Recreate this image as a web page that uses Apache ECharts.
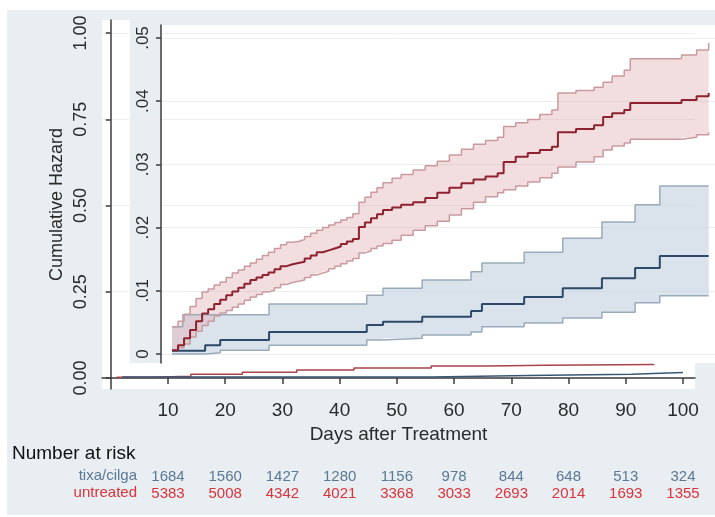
<!DOCTYPE html>
<html><head><meta charset="utf-8">
<script src="https://cdn.jsdelivr.net/npm/echarts@6/dist/echarts.min.js"></script>
<style>html,body{margin:0;padding:0;background:#fff}#c{width:715px;height:517px}</style>
</head><body><div id="c"></div>
<script>
// ---------- data ----------
const xTicks = [10, 20, 30, 40, 50, 60, 70, 80, 90, 100];
const yTicksOuter = [0, 0.25, 0.5, 0.75, 1];
const yTicksInset = [0, 0.01, 0.02, 0.03, 0.04, 0.05];

const riskTixa = [1684, 1560, 1427, 1280, 1156, 978, 844, 648, 513, 324];
const riskUntreated = [5383, 5008, 4342, 4021, 3368, 3033, 2693, 2014, 1693, 1355];

// outer (full-scale) curves
const outerRedDays = [1, 7, 14, 23, 32.5, 42.5, 56, 66, 76, 95];
const outerRedVals = [0.002, 0.005, 0.011, 0.017, 0.023, 0.029, 0.035, 0.037, 0.039, 0.039];
const outerBlueDays = [2, 56, 73, 91, 100];
const outerBlueVals = [0.003, 0.007, 0.011, 0.016, 0.016];

// inset: untreated (red)
const redDays = [11,12,13,14,15,16,17,18,19,20,21,22,23,24,25,26,27,28,29,30,31,32,33,34,35,36,37,38,39,40,41,42,43,44,45,46,47.5,49,51,53,55,57,59,61,63,65,66,68,70,72,74,75,78,81,82.5,84,86,87,95.5,98,100];
const redMid = [.0006,.0014,.0025,.0038,.0052,.0064,.0071,.0079,.0086,.0093,.0099,.0105,.0111,.0117,.0121,.0125,.0129,.0134,.0139,.0142,.0144,.0146,.0151,.0156,.0161,.0164,.0167,.0170,.0174,.0178,.0182,.0201,.0208,.0215,.0221,.0228,.0232,.0236,.0240,.0247,.0255,.0263,.0270,.0276,.0281,.0286,.0304,.0312,.0318,.0323,.0328,.0351,.0356,.0362,.0375,.0381,.0386,.0397,.0402,.0408,.0413];
const redLo = [.0005,.0010,.0016,.0027,.0036,.0045,.0052,.0060,.0065,.0069,.0074,.0079,.0085,.0090,.0094,.0098,.0101,.0105,.0110,.0113,.0115,.0117,.0121,.0125,.0128,.0131,.0135,.0139,.0143,.0147,.0151,.0160,.0163,.0167,.0171,.0175,.0180,.0188,.0196,.0203,.0210,.0220,.0230,.0240,.0249,.0255,.0260,.0266,.0272,.0279,.0286,.0296,.0304,.0312,.0323,.0329,.0334,.0340,.0343,.0347,.0351];
const redHi = [.0043,.0052,.0063,.0075,.0088,.0098,.0103,.0109,.0114,.0121,.0128,.0133,.0139,.0144,.0150,.0156,.0161,.0167,.0173,.0177,.0178,.0181,.0186,.0191,.0196,.0200,.0204,.0208,.0212,.0216,.0222,.0240,.0248,.0256,.0263,.0271,.0278,.0284,.0291,.0298,.0305,.0315,.0324,.0332,.0338,.0343,.0360,.0366,.0371,.0379,.0386,.0413,.0417,.0422,.0430,.0440,.0449,.0467,.0473,.0481,.0492];

// inset: tixa/cilga (blue)
const blueDays = [11, 12.8, 16.5, 19, 27.1, 43.3, 46, 52.5, 60.6, 62.4, 69.4, 75.8, 82.3, 87.8, 91.9, 100];
const blueMid = [.0005, .0005, .0014, .0022, .0035, .0046, .0051, .0059, .0068, .0079, .0090, .0104, .0120, .0136, .0155, .0155];
const blueLo = [.0000, .0000, .0002, .0006, .0014, .0022, .0025, .0030, .0035, .0043, .0049, .0057, .0066, .0081, .0092, .0092];
const blueHi = [.0043, .0062, .0062, .0062, .0079, .0093, .0104, .0117, .0130, .0144, .0161, .0183, .0209, .0236, .0266, .0266];

// ---------- helpers ----------
const zip = (xs, ys) => xs.map((x, i) => [x, ys[i]]);
const FONT = 'Liberation Sans, Arial, Helvetica, sans-serif';
const AX = '#3c3c3c';
const TXT = '#2b2b2b';

function bandSeries(days, lo, hi, fill) {
  return {
    type: 'custom', xAxisIndex: 1, yAxisIndex: 1, silent: true, z: 1,
    data: [[days[0], lo[0]]],
    encode: { x: 0, y: 1 },
    renderItem: function (params, api) {
      const pts = [];
      for (let i = 0; i < days.length; i++) {
        pts.push(api.coord([days[i], hi[i]]));
        if (i + 1 < days.length) pts.push(api.coord([days[i + 1], hi[i]]));
      }
      for (let i = days.length - 1; i >= 0; i--) {
        if (i + 1 < days.length) pts.push(api.coord([days[i + 1], lo[i]]));
        pts.push(api.coord([days[i], lo[i]]));
      }
      return { type: 'polygon', shape: { points: pts }, style: { fill: fill } };
    }
  };
}
function stepLine(data, color, width, xi, yi, z) {
  return {
    type: 'line', step: 'end', data: data, xAxisIndex: xi, yAxisIndex: yi,
    symbol: 'none', silent: true, z: z,
    lineStyle: { color: color, width: width }
  };
}

const chart = echarts.init(document.getElementById('c'), null, { renderer: 'canvas' });

const option = {
  animation: false,
  textStyle: { fontFamily: FONT },
  graphic: [
    { type: 'rect', z: -100, silent: true, shape: { x: 7, y: 10, width: 708, height: 505 }, style: { fill: '#e8eef2' } },
    { type: 'rect', z: -99, silent: true, shape: { x: 102, y: 20, width: 593, height: 369 }, style: { fill: '#ffffff' } },
    { type: 'rect', z: -50, silent: true, shape: { x: 130, y: 10, width: 585, height: 353 }, style: { fill: '#e8eef2' } },
    { type: 'rect', z: -49, silent: true, shape: { x: 161, y: 25, width: 554, height: 338 }, style: { fill: '#ffffff' } },
    { type: 'text', silent: true, left: 12, top: 444, style: { text: 'Number at risk', fill: '#111', font: '19px ' + FONT } },
    { type: 'text', silent: true, right: 715 - 137, top: 468, style: { text: 'tixa/cilga', fill: '#5b7896', font: '15px ' + FONT, textAlign: 'right' } },
    { type: 'text', silent: true, right: 715 - 137, top: 485, style: { text: 'untreated', fill: '#d8343c', font: '15px ' + FONT, textAlign: 'right' } }
  ],
  grid: [
    { left: 102, right: 20, top: 20, bottom: 128, containLabel: false },
    { left: 161, right: 0, top: 25, bottom: 154, containLabel: false }
  ],
  xAxis: [
    {
      type: 'value', gridIndex: 0, min: -1.53, max: 102.1, z: -40,
      name: 'Days after Treatment', nameLocation: 'middle', nameGap: 35,
      nameTextStyle: { fontSize: 19, color: TXT, fontFamily: FONT },
      axisLine: { show: true, lineStyle: { color: AX, width: 1.5 } },
      axisTick: { show: true, length: 6, customValues: xTicks, lineStyle: { color: AX, width: 1.5 } },
      axisLabel: { customValues: xTicks, fontSize: 19, color: TXT, margin: 12, fontFamily: FONT },
      splitLine: { show: false }
    },
    { type: 'value', gridIndex: 1, min: 9.18, max: 101.05, show: false },
    {
      type: 'value', gridIndex: 0, min: -1.53, max: 102.1, position: 'bottom', offset: 88,
      axisLine: { show: false }, axisTick: { show: false, customValues: xTicks }, splitLine: { show: false },
      axisLabel: {
        customValues: xTicks, margin: 0, verticalAlign: 'middle', fontSize: 15, color: '#5b7896', fontFamily: FONT,
        formatter: v => { const i = xTicks.indexOf(Math.round(v)); return i >= 0 ? String(riskTixa[i]) : ''; }
      }
    },
    {
      type: 'value', gridIndex: 0, min: -1.53, max: 102.1, position: 'bottom', offset: 105,
      axisLine: { show: false }, axisTick: { show: false, customValues: xTicks }, splitLine: { show: false },
      axisLabel: {
        customValues: xTicks, margin: 0, verticalAlign: 'middle', fontSize: 15, color: '#d8343c', fontFamily: FONT,
        formatter: v => { const i = xTicks.indexOf(Math.round(v)); return i >= 0 ? String(riskUntreated[i]) : ''; }
      }
    }
  ],
  yAxis: [
    {
      type: 'value', gridIndex: 0, min: -0.0319, max: 1.0377, z: -40,
      name: 'Cumulative Hazard', nameLocation: 'middle', nameGap: 36, nameMoveOverlap: false,
      nameTextStyle: { fontSize: 18, color: TXT, fontFamily: FONT },
      axisLine: { show: true, lineStyle: { color: AX, width: 1.5 } },
      axisTick: { show: true, length: 5, customValues: yTicksOuter, lineStyle: { color: AX, width: 1.5 } },
      axisLabel: { customValues: yTicksOuter, rotate: 90, fontSize: 18, color: TXT, margin: 12, fontFamily: FONT,
        formatter: v => v.toFixed(2) },
      splitLine: { show: true, lineStyle: { color: '#eeeeee', width: 1 } }
    },
    {
      type: 'value', gridIndex: 1, min: -0.001424, max: 0.05206,
      axisLine: { show: true, lineStyle: { color: AX, width: 1.5 } },
      axisTick: { show: true, length: 5, customValues: yTicksInset, lineStyle: { color: AX, width: 1.5 } },
      axisLabel: { customValues: yTicksInset, rotate: 90, fontSize: 17, color: TXT, margin: 9, fontFamily: FONT,
        formatter: v => v === 0 ? '0' : ('.' + String(Math.round(v * 100)).padStart(2, '0')) },
      splitLine: { show: true, lineStyle: { color: '#ececec', width: 1 } }
    }
  ],
  series: [
    // outer curves
    stepLine(zip(outerRedDays, outerRedVals), '#a8434a', 1.5, 0, 0, -30),
    stepLine(zip(outerBlueDays, outerBlueVals), '#3a5675', 1.5, 0, 0, -30),
    // inset bands
    bandSeries(blueDays, blueLo, blueHi, 'rgba(196,208,222,0.62)'),
    bandSeries(redDays, redLo, redHi, 'rgba(226,172,176,0.40)'),
    stepLine(zip(blueDays, blueLo), '#9aaabb', 1.5, 1, 1, 3),
    stepLine(zip(blueDays, blueHi), '#9aaabb', 1.5, 1, 1, 3),
    stepLine(zip(redDays, redLo), '#c99aa0', 1.5, 1, 1, 3),
    stepLine(zip(redDays, redHi), '#c99aa0', 1.5, 1, 1, 3),
    stepLine(zip(blueDays, blueMid), '#2e4a6a', 2, 1, 1, 4),
    stepLine(zip(redDays, redMid), '#8e2231', 2, 1, 1, 4)
  ]
};
chart.setOption(option);
</script>
</body></html>
